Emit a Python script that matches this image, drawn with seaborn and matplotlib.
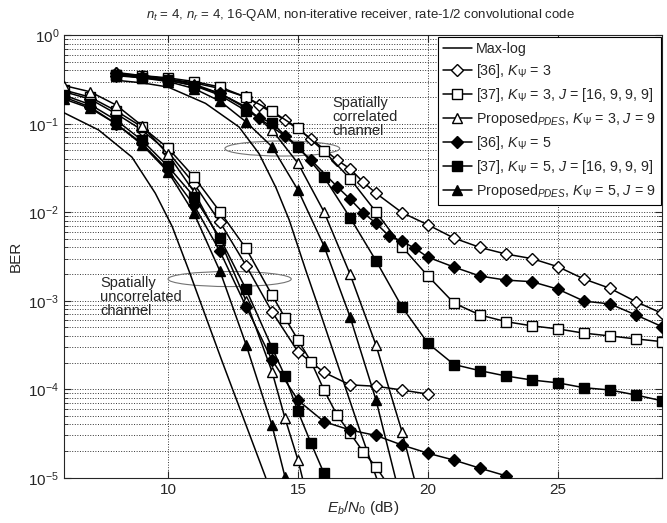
import numpy as np
import matplotlib
matplotlib.use("Agg")
import matplotlib.pyplot as plt
from matplotlib.patches import Ellipse
import seaborn as sns

# ---- data (Eb/N0 in dB, BER) ----
# spatially uncorrelated channel
unc_maxlog_db = [6, 7.33, 8.61, 9.51, 10.16, 10.8, 12.06, 13.76]
unc_maxlog_ber = [0.133, 0.085, 0.042, 0.0164, 6.9e-3, 2.2e-3, 2.14e-4, 1.0e-5]

unc_36k3_db = [6, 7, 8, 9, 10, 11, 12, 13, 14, 15, 16, 17, 18, 19, 20]
unc_36k3_ber = [0.23, 0.19, 0.13, 0.085, 0.048, 0.021, 7.7e-3, 2.5e-3, 7.5e-4,
                2.65e-4, 1.55e-4, 1.12e-4, 1.08e-4, 9.8e-5, 8.8e-5]

unc_37k3_db = [6, 7, 8, 9, 10, 11, 12, 13, 14, 14.5, 15, 15.5, 16, 16.5, 17,
               17.5, 18, 18.5]
unc_37k3_ber = [0.24, 0.2, 0.14, 0.092, 0.053, 0.025, 0.0101, 3.9e-3, 1.16e-3,
                6.4e-4, 3.6e-4, 2.05e-4, 9.8e-5, 5.1e-5, 3.2e-5, 1.97e-5,
                1.33e-5, 8e-6]

unc_pk3_db = [6, 7, 8, 9, 10, 11, 12, 13, 14, 14.5, 15, 15.5]
unc_pk3_ber = [0.27, 0.23, 0.163, 0.095, 0.045, 0.017, 4.8e-3, 1.0e-3, 1.58e-4,
               4.7e-5, 1.58e-5, 4e-6]

unc_36k5_db = [6, 7, 8, 9, 10, 11, 12, 13, 14, 15, 16, 17, 18, 19, 20, 21, 22, 23]
unc_36k5_ber = [0.2, 0.155, 0.1, 0.06, 0.03, 0.012, 3.6e-3, 8.6e-4, 2.14e-4,
                7.5e-5, 4.3e-5, 3.46e-5, 3.0e-5, 2.34e-5, 1.89e-5, 1.58e-5,
                1.28e-5, 1.05e-5]

unc_37k5_db = [6, 7, 8, 9, 10, 11, 12, 13, 14, 14.5, 15, 15.5, 16]
unc_37k5_ber = [0.21, 0.165, 0.11, 0.065, 0.033, 0.015, 5.1e-3, 1.35e-3, 2.95e-4,
                1.4e-4, 5.6e-5, 2.45e-5, 1.12e-5]

unc_pk5_db = [6, 7, 8, 9, 10, 11, 12, 13, 14, 14.5]
unc_pk5_ber = [0.19, 0.15, 0.1, 0.058, 0.0287, 9.7e-3, 2.15e-3, 3.2e-4, 3.9e-5,
               1.02e-5]

# spatially correlated channel
cor_maxlog_db = [8, 9, 10, 11.44, 12.73, 13.5, 14.15, 14.66, 15.3, 15.7, 16.5,
                 17.3, 18.2]
cor_maxlog_ber = [0.31, 0.29, 0.26, 0.17, 0.092, 0.046, 0.019, 8.2e-3, 2.2e-3,
                  1.0e-3, 2e-4, 4e-5, 7e-6]

cor_36k3_db = [8, 9, 10, 11, 12, 13, 13.5, 14.5, 15.5, 16.5, 17, 17.5, 18, 19,
               20, 21, 22, 23, 24, 25, 26, 27, 28, 29]
cor_36k3_ber = [0.37, 0.35, 0.32, 0.29, 0.25, 0.2, 0.163, 0.11, 0.068, 0.039,
                0.031, 0.022, 0.0164, 9.9e-3, 7.2e-3, 5.1e-3, 4.0e-3, 3.37e-3,
                2.99e-3, 2.42e-3, 1.76e-3, 1.38e-3, 9.75e-4, 7.2e-4]

cor_37k3_db = list(range(8, 30))
cor_37k3_ber = [0.36, 0.35, 0.33, 0.3, 0.26, 0.2, 0.139, 0.089, 0.049, 0.024,
                0.0101, 4.07e-3, 1.9e-3, 9.4e-4, 6.9e-4, 5.8e-4, 5.2e-4, 4.8e-4,
                4.3e-4, 4.0e-4, 3.7e-4, 3.45e-4]

cor_pk3_db = list(range(8, 21))
cor_pk3_ber = [0.38, 0.35, 0.32, 0.28, 0.22, 0.15, 0.085, 0.0357, 0.0101, 2.0e-3,
               3.15e-4, 3.3e-5, 2.5e-6]

cor_36k5_db = [8, 9, 10, 11, 12, 13, 13.5, 14.5, 15.5, 16.5, 17, 17.5, 18, 18.5,
               19, 19.5, 20, 21, 22, 23, 24, 25, 26, 27, 28, 29]
cor_36k5_ber = [0.35, 0.34, 0.31, 0.27, 0.22, 0.155, 0.115, 0.073, 0.039, 0.0195,
                0.0141, 9.9e-3, 7.5e-3, 5.4e-3, 4.7e-3, 3.9e-3, 3.1e-3, 2.4e-3,
                1.9e-3, 1.71e-3, 1.64e-3, 1.35e-3, 9.9e-4, 9.2e-4, 6.9e-4, 5.1e-4]

cor_37k5_db = list(range(8, 30))
cor_37k5_ber = [0.36, 0.33, 0.31, 0.27, 0.21, 0.14, 0.101, 0.055, 0.025, 8.7e-3,
                2.83e-3, 8.5e-4, 3.3e-4, 1.9e-4, 1.62e-4, 1.41e-4, 1.27e-4,
                1.18e-4, 1.04e-4, 9.8e-5, 8.6e-5, 7.4e-5]

cor_pk5_db = list(range(8, 20))
cor_pk5_ber = [0.35, 0.33, 0.3, 0.25, 0.18, 0.105, 0.055, 0.0178, 4.15e-3,
               6.6e-4, 7.55e-5, 5e-6]

labels = ['Max-log',
          r'[36], $K_{\Psi}$ = 3',
          r'[37], $K_{\Psi}$ = 3, $J$ = [16, 9, 9, 9]',
          r'Proposed$_{PDES}$, $K_{\Psi}$ = 3, $J$ = 9',
          r'[36], $K_{\Psi}$ = 5',
          r'[37], $K_{\Psi}$ = 5, $J$ = [16, 9, 9, 9]',
          r'Proposed$_{PDES}$, $K_{\Psi}$ = 5, $J$ = 9']

# %% style
sns.set_style('ticks')
plt.rcParams['font.family'] = ['Liberation Sans', 'DejaVu Sans']
plt.rcParams['mathtext.fontset'] = 'custom'
plt.rcParams['mathtext.rm'] = 'Liberation Sans'
plt.rcParams['mathtext.it'] = 'Liberation Sans:italic'
plt.rcParams['mathtext.bf'] = 'Liberation Sans:bold'

# marker, size, face colour for each legend entry
styles = [(None, 0, 'none'),
          ('D', 6, 'white'),
          ('s', 6.5, 'white'),
          ('^', 7.5, 'white'),
          ('D', 6, 'black'),
          ('s', 6.5, 'black'),
          ('^', 7.5, 'black')]

unc = [(unc_maxlog_db, unc_maxlog_ber), (unc_36k3_db, unc_36k3_ber),
       (unc_37k3_db, unc_37k3_ber), (unc_pk3_db, unc_pk3_ber),
       (unc_36k5_db, unc_36k5_ber), (unc_37k5_db, unc_37k5_ber),
       (unc_pk5_db, unc_pk5_ber)]
cor = [(cor_maxlog_db, cor_maxlog_ber), (cor_36k3_db, cor_36k3_ber),
       (cor_37k3_db, cor_37k3_ber), (cor_pk3_db, cor_pk3_ber),
       (cor_36k5_db, cor_36k5_ber), (cor_37k5_db, cor_37k5_ber),
       (cor_pk5_db, cor_pk5_ber)]

fig = plt.figure(figsize=(6.67, 5.23), dpi=100)
ax = fig.add_axes([0.096, 0.0866, 0.8965, 0.846])
ax.set_yscale('log')

for group, with_label in ((unc, True), (cor, False)):
    for i, (db, ber) in enumerate(group):
        marker, ms, fc = styles[i]
        kw = dict(color='black', linewidth=1.1, label=labels[i] if with_label else None)
        if marker is not None:
            kw.update(marker=marker, markersize=ms, markerfacecolor=fc,
                      markeredgecolor='black', markeredgewidth=1.0)
        sns.lineplot(x=np.array(db, dtype=float), y=np.array(ber), ax=ax,
                     estimator=None, sort=False, zorder=3 + i, **kw)

ax.set_xlim(6, 29)
ax.set_ylim(1e-5, 1)
ax.set_xticks([10, 15, 20, 25])
ax.grid(True, which='major', linestyle=':', color='0.2', linewidth=0.7)
ax.grid(True, which='minor', axis='y', linestyle=':', color='0.2', linewidth=0.7)
ax.tick_params(which='both', direction='in', top=True, right=True, labelsize=11)
ax.tick_params(which='major', length=5)
ax.tick_params(which='minor', length=3)
for sp in ax.spines.values():
    sp.set_linewidth(0.8)

ax.set_xlabel(r'$E_b/N_0$ (dB)', fontsize=11, labelpad=2)
ax.set_ylabel('BER', fontsize=11, labelpad=4)
fig.text(0.54, 0.972,
         r'$n_t$ = 4, $n_r$ = 4, 16-QAM, non-iterative receiver, rate-1/2 convolutional code',
         ha='center', va='center', fontsize=9.5)

# annotations
ax.add_patch(Ellipse((0.365, 0.744), 0.192, 0.034, transform=ax.transAxes,
                     facecolor='none', edgecolor='0.45', linewidth=0.8, zorder=2))
ax.add_patch(Ellipse((0.277, 0.449), 0.206, 0.034, transform=ax.transAxes,
                     facecolor='none', edgecolor='0.45', linewidth=0.8, zorder=2))
ax.text(0.448, 0.862, 'Spatially\ncorrelated\nchannel', transform=ax.transAxes,
        ha='left', va='top', fontsize=10.5, linespacing=1.0, zorder=12)
ax.text(0.060, 0.455, 'Spatially\nuncorrelated\nchannel', transform=ax.transAxes,
        ha='left', va='top', fontsize=10.5, linespacing=1.0, zorder=12)

leg = ax.legend(loc='upper right', fontsize=10.3, frameon=True, fancybox=False,
                edgecolor='black', framealpha=1, borderaxespad=0.1,
                handlelength=2.0, handletextpad=0.3, labelspacing=0.42,
                borderpad=0.35)
leg.get_frame().set_linewidth(0.8)
leg.set_zorder(20)

fig.savefig('out.png', dpi=100)
